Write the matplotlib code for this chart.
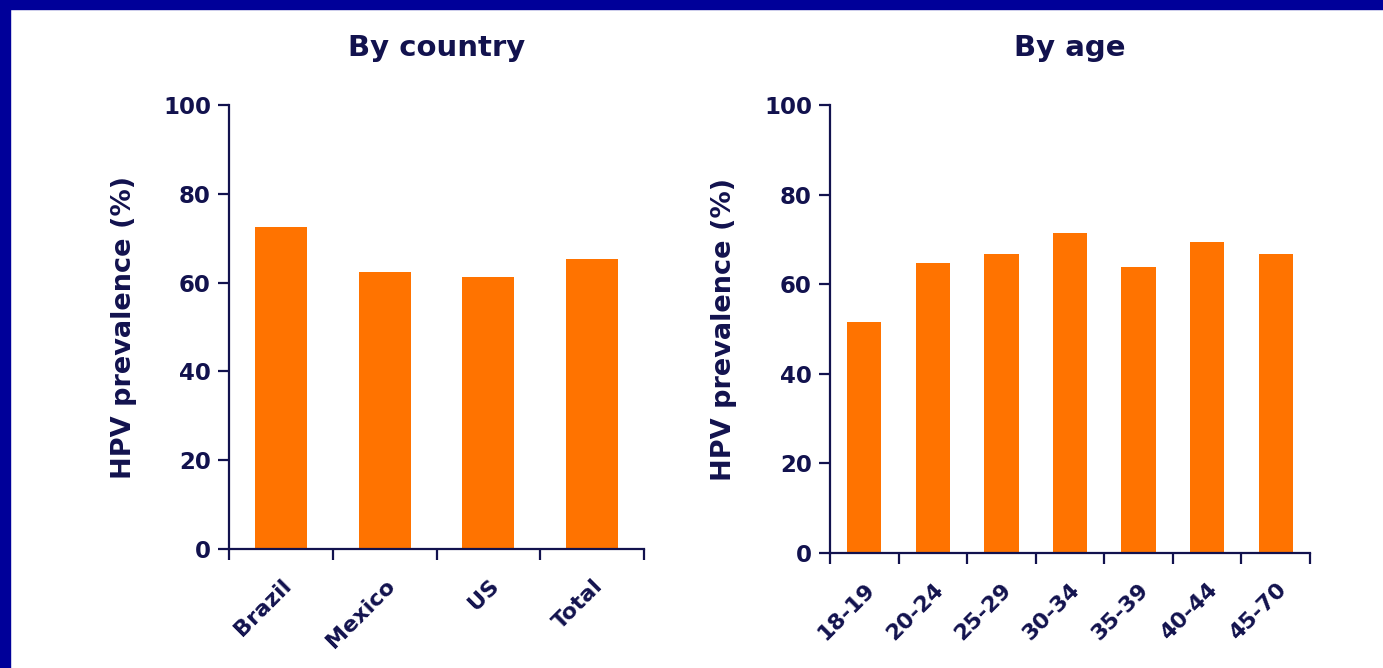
import matplotlib
matplotlib.use("Agg")
import matplotlib.pyplot as plt
from matplotlib.patches import Rectangle

NAVY = "#12124e"
ORANGE = "#ff7300"
FRAME = "#000099"

plt.rcParams.update({
    "font.family": ["DejaVu Sans"],
    "font.weight": "bold",
    "text.color": NAVY,
    "axes.edgecolor": NAVY,
    "axes.labelcolor": NAVY,
    "xtick.color": NAVY,
    "ytick.color": NAVY,
})

countries = ["Brazil", "Mexico", "US", "Total"]
country_prev = [72.5, 62.4, 61.3, 65.3]

age_groups = ["18-19", "20-24", "25-29", "30-34", "35-39", "40-44", "45-70"]
age_prev = [51.6, 64.7, 66.7, 71.4, 63.8, 69.4, 66.7]

yticks = [0, 20, 40, 60, 80, 100]


def draw_panel(ax, labels, values, title):
    n = len(labels)
    pos = list(range(n))
    ax.bar(pos, values, width=0.5, color=ORANGE, zorder=2)
    ax.set_xlim(-0.5, n - 0.5)
    ax.set_ylim(0, 100)
    ax.set_yticks(yticks)
    ax.set_yticklabels([str(t) for t in yticks], fontsize=16.5, fontweight="bold")
    # category labels under bars, tick marks between categories
    ax.set_xticks(pos)
    ax.set_xticklabels(labels, rotation=45, ha="right", rotation_mode="anchor",
                       fontsize=16, fontweight="bold")
    ax.set_xticks([p - 0.5 for p in range(n + 1)], minor=True)
    ax.tick_params(axis="x", which="major", length=0, pad=19)
    ax.tick_params(axis="x", which="minor", length=8, width=1.6, direction="out")
    ax.tick_params(axis="y", length=8, width=1.6, pad=5)
    for side in ("top", "right"):
        ax.spines[side].set_visible(False)
    for side in ("left", "bottom"):
        ax.spines[side].set_linewidth(1.6)
    ax.set_ylabel("HPV prevalence (%)", fontsize=19.5, fontweight="bold", labelpad=19)
    ax.set_title(title, fontsize=21, fontweight="bold", pad=35)


fig = plt.figure(figsize=(13.83, 6.68), dpi=100)
fig.patch.set_facecolor("white")

ax1 = fig.add_axes([0.1656, 0.1781, 0.3001, 0.6647])
ax2 = fig.add_axes([0.6001, 0.1722, 0.3471, 0.6707])

draw_panel(ax1, countries, country_prev, "By country")
draw_panel(ax2, age_groups, age_prev, "By age")

# slide frame along the top and left edges
fig.patches.append(Rectangle((0, 1 - 9 / 668), 1, 9 / 668, transform=fig.transFigure,
                             color=FRAME, zorder=10))
fig.patches.append(Rectangle((0, 0), 10 / 1383, 1, transform=fig.transFigure,
                             color=FRAME, zorder=10))

fig.savefig("out.png", dpi=100)
